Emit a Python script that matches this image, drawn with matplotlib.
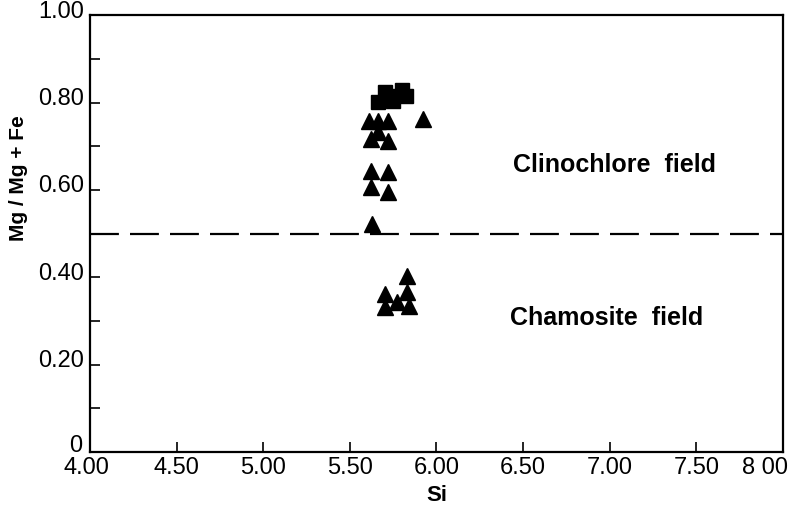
import numpy as np
import matplotlib
matplotlib.use("Agg")
import matplotlib.pyplot as plt
import matplotlib.transforms as mtransforms

plt.rcParams['font.family'] = ['Liberation Sans', 'DejaVu Sans']

# chlorite analyses: Si (a.p.f.u.) against Mg/(Mg+Fe)
tri_si = [5.61, 5.66, 5.72, 5.665, 5.62, 5.72, 5.62, 5.72, 5.62, 5.72, 5.925, 5.63,
          5.83, 5.705, 5.83, 5.775, 5.705, 5.84]
tri_mg = [0.757, 0.757, 0.757, 0.732, 0.716, 0.712, 0.643, 0.641, 0.606, 0.595, 0.762, 0.522,
          0.403, 0.362, 0.366, 0.343, 0.332, 0.334]
sq_si = [5.665, 5.705, 5.75, 5.735, 5.80, 5.825]
sq_mg = [0.801, 0.824, 0.803, 0.815, 0.828, 0.816]

boundary = 0.50
x_ticks = [4.0, 4.5, 5.0, 5.5, 6.0, 6.5, 7.0, 7.5, 8.0]
x_labels = ["4.00", "4.50", "5.00", "5.50", "6.00", "6.50", "7.00", "7.50", "8 00"]
y_ticks = [0.0, 0.2, 0.4, 0.6, 0.8, 1.0]
y_labels = ["0", "0.20", "0.40", "0.60", "0.80", "1.00"]

fig = plt.figure(figsize=(7.92, 5.06), dpi=100)
ax = fig.add_axes([0.1136, 0.1047, 0.875, 0.8633])

ax.plot(tri_si, tri_mg, linestyle="none", marker="^", ms=12, color="black", mec="black")
ax.plot(sq_si, sq_mg, linestyle="none", marker="s", ms=10, color="black", mec="black")

ax.axhline(boundary, color="black", lw=1.6, dashes=(13, 5))

ax.text(7.03, 0.659, "Clinochlore  field", fontsize=18, fontweight="bold",
        ha="center", va="center")
ax.text(6.98, 0.309, "Chamosite  field", fontsize=18, fontweight="bold",
        ha="center", va="center")

ax.set_xlim(4.0, 8.0)
ax.set_ylim(0.0, 1.0)
ax.set_xticks(x_ticks)
ax.set_xticklabels(x_labels)
ax.set_yticks(y_ticks)
ax.set_yticklabels(y_labels)
ax.set_yticks(np.arange(0.1, 1.0, 0.2), minor=True)

ax.tick_params(axis="both", which="both", direction="in", length=7, width=1.2,
               labelsize=17)
ax.tick_params(axis="x", pad=3)
ax.tick_params(axis="y", pad=4)

# y labels sit a little above their ticks
def nudge(lbl, dx, dy):
    lbl.set_transform(lbl.get_transform()
                      + mtransforms.ScaledTranslation(dx / 100, dy / 100, fig.dpi_scale_trans))

yl = ax.get_yticklabels()
for lbl in yl:
    nudge(lbl, 0, 7)
nudge(yl[0], -2, 3)

# last x label pulled in from the right edge, first one nudged left
xl = ax.get_xticklabels()
nudge(xl[-1], -18, 0)
nudge(xl[0], -4, 0)

for sp in ax.spines.values():
    sp.set_linewidth(1.6)

ax.set_xlabel("Si", fontsize=16, fontweight="bold", labelpad=4)
ax.set_ylabel("Mg / Mg + Fe", fontsize=15, fontweight="bold")
ax.yaxis.set_label_coords(-0.09, 0.63)

fig.savefig("out.png", dpi=100)
